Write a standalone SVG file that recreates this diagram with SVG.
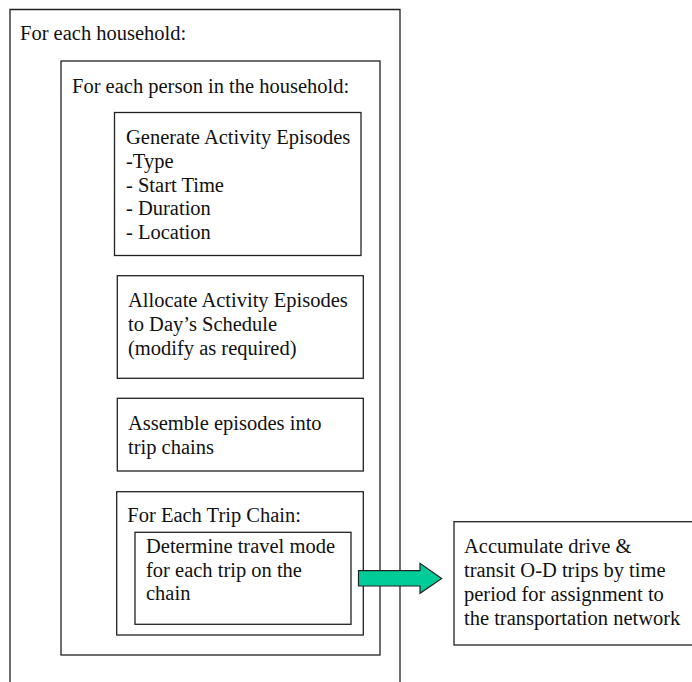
<svg xmlns="http://www.w3.org/2000/svg" width="692" height="682" viewBox="0 0 692 682">
<style>
.b{fill:#fff;stroke:#222;stroke-width:1.3}
.t{font-family:"Liberation Serif","Times New Roman",serif;font-size:20.5px;fill:#111}
.arr{fill:#00cc99;stroke:#222;stroke-width:1.2}
</style>
<rect width="692" height="682" fill="#fff"/>
<g id="household">
<path class="b" d="M10,684 V9.5 H400 V684"/>
<text class="t" x="20" y="40">For each household:</text>
</g>
<g id="person">
<rect class="b" x="61" y="61" width="319" height="594"/>
<text class="t" x="72" y="93">For each person in the household:</text>
</g>
<g id="generate">
<rect class="b" x="114.5" y="112.5" width="246.5" height="143"/>
<text class="t" x="126" y="144">Generate Activity Episodes</text>
<text class="t" x="126" y="167.8">-Type</text>
<text class="t" x="126" y="191.6">- Start Time</text>
<text class="t" x="126" y="215.4">- Duration</text>
<text class="t" x="126" y="239.2">- Location</text>
</g>
<g id="allocate">
<rect class="b" x="117.3" y="275.7" width="246" height="102.6"/>
<text class="t" x="128" y="307.3">Allocate Activity Episodes</text>
<text class="t" x="128" y="331.1">to Day’s Schedule</text>
<text class="t" x="128" y="354.9">(modify as required)</text>
</g>
<g id="assemble">
<rect class="b" x="117.3" y="398.3" width="246" height="72.7"/>
<text class="t" x="128" y="430">Assemble episodes into</text>
<text class="t" x="128" y="453.8">trip chains</text>
</g>
<g id="tripchain">
<rect class="b" x="116.7" y="491.7" width="246.6" height="143.3"/>
<text class="t" x="127.3" y="521.7">For Each Trip Chain:</text>
</g>
<g id="determine">
<rect class="b" x="135" y="532.3" width="216" height="92"/>
<text class="t" x="146" y="552.7">Determine travel mode</text>
<text class="t" x="146" y="576.5">for each trip on the</text>
<text class="t" x="146" y="600.3">chain</text>
</g>
<g id="accumulate">
<rect class="b" x="454" y="521.7" width="250" height="123.3"/>
<text class="t" x="464" y="553.3">Accumulate drive &amp;</text>
<text class="t" x="464" y="577.1">transit O-D trips by time</text>
<text class="t" x="464" y="600.9">period for assignment to</text>
<text class="t" x="464" y="624.7">the transportation network</text>
</g>
<g id="connectors">
<path class="arr" d="M358.5,570.7 H420 V563.3 L441.7,578.4 L420,593.3 V586 H358.5 Z"/>
</g>
</svg>
